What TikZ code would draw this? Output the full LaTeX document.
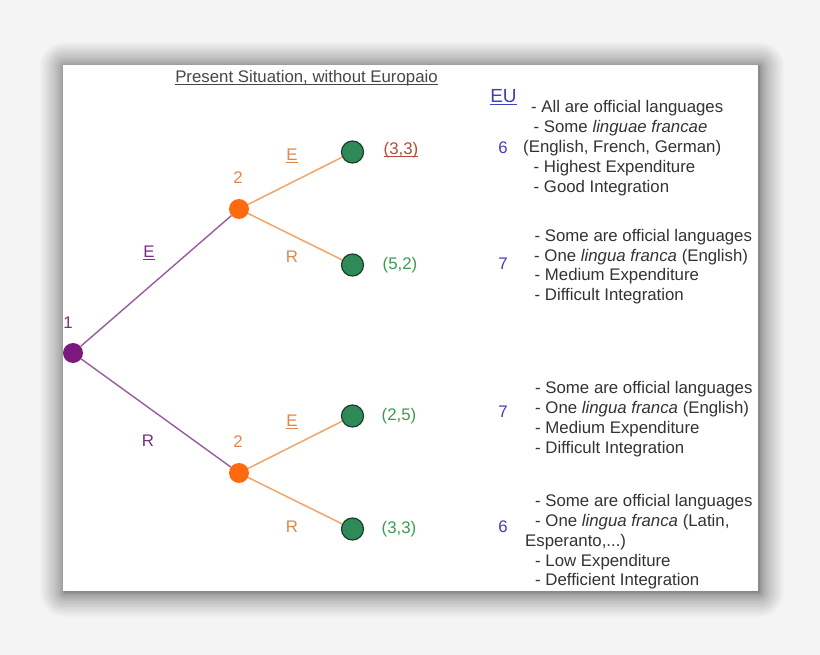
\documentclass[tikz,border=0pt]{standalone}
\usepackage{fontspec}
\setmainfont{Liberation Sans}
\definecolor{bggrey}{HTML}{F4F4F4}
\definecolor{txtgrey}{HTML}{333333}
\definecolor{eublue}{HTML}{4040B8}
\definecolor{purpnode}{HTML}{7B1A7D}
\definecolor{purpedge}{HTML}{9A5AA0}
\definecolor{purptext}{HTML}{7B2F80}
\definecolor{orgnode}{HTML}{FF6A10}
\definecolor{orgedge}{HTML}{F2A56A}
\definecolor{orgtext}{HTML}{E0874A}
\definecolor{leaffill}{HTML}{2E8B57}
\definecolor{leafline}{HTML}{1D3D2A}
\definecolor{greentext}{HTML}{3C9C4C}
\definecolor{redtext}{HTML}{B84A3A}
\newcommand{\myul}[1]{\setbox0\hbox{#1}\rlap{\rule[-2.2pt]{\wd0}{0.9pt}}\box0}
\tikzset{
  txt/.style={inner sep=0pt, anchor=base west, text=txtgrey, font=\fontsize{16.8}{20}\selectfont},
  num/.style={inner sep=0pt, anchor=base, text=eublue, font=\fontsize{16.8}{20}\selectfont},
  lbl/.style={inner sep=0pt, anchor=center, font=\fontsize{16.8}{20}\selectfont},
  root/.style={circle, fill=purpnode, minimum size=20pt, inner sep=0pt},
  mid/.style={circle, fill=orgnode, minimum size=20pt, inner sep=0pt},
  leaf/.style={circle, fill=leaffill, draw=leafline, line width=1.2pt, minimum size=22pt, inner sep=0pt},
  pedge/.style={draw=purpedge, line width=1.4pt},
  oedge/.style={draw=orgedge, line width=1.5pt}
}
\begin{document}
\begin{tikzpicture}[x=1pt,y=-1pt]
\useasboundingbox (0,0) rectangle (820,655);
\fill[bggrey] (0,0) rectangle (820,655);
% soft shadow around the card
\foreach \i in {1,...,22}{
  \pgfmathsetmacro{\e}{\i*\i/20}
  \fill[black, opacity=0.022, rounded corners={\e pt}] ({63-\e+1.5},{65-\e+1.5}) rectangle ({758+\e+1.5},{591+\e+1.5});
}
\fill[white] (63,65) rectangle (758,591);

% title
\node[txt, anchor=base, text=txtgrey!90] (title) at (306.5,83) {\myul{Present Situation, without Europaio}};
\node[num, font=\fontsize{19}{22}\selectfont] (eu) at (503.5,103) {\myul{EU}};

% tree nodes
\node[root] (n1) at (73,353) {};
\node[mid] (n2a) at (239,209) {};
\node[mid] (n2b) at (239,473) {};
\node[leaf] (l1) at (352.5,152) {};
\node[leaf] (l2) at (352.5,265) {};
\node[leaf] (l3) at (352.5,416) {};
\node[leaf] (l4) at (352.5,529) {};

\draw[pedge] (n1) -- (n2a);
\draw[pedge] (n1) -- (n2b);
\draw[oedge] (n2a) -- (l1);
\draw[oedge] (n2a) -- (l2);
\draw[oedge] (n2b) -- (l3);
\draw[oedge] (n2b) -- (l4);

% tree labels
\node[lbl, text=purptext] (lab1) at (68,323) {1};
\node[lbl, text=orgtext] (lab2a) at (238,178) {2};
\node[lbl, text=orgtext] (lab2b) at (238,442) {2};
\node[lbl, text=purptext] (eE) at (149,253) {\myul{E}};
\node[lbl, text=purptext] (eR) at (148,441) {R};
\node[lbl, text=orgtext] (e1) at (292,156) {\myul{E}};
\node[lbl, text=orgtext] (e2) at (292,257) {R};
\node[lbl, text=orgtext] (e3) at (292,422) {\myul{E}};
\node[lbl, text=orgtext] (e4) at (292,527) {R};

% payoffs
\node[lbl, text=redtext] (p1) at (401,150) {\myul{(3,3)}};
\node[lbl, text=greentext] (p2) at (400,265) {(5,2)};
\node[lbl, text=greentext] (p3) at (399,416) {(2,5)};
\node[lbl, text=greentext] (p4) at (399,529) {(3,3)};

% EU numbers
\node[num] (u1) at (503,154) {6};
\node[num] (u2) at (503,270) {7};
\node[num] (u3) at (503,417) {7};
\node[num] (u4) at (503,532) {6};

% block 1
\node[txt] (a1) at (531,113) {- All are official languages};
\node[txt] (a2) at (533.5,133) {- Some \textit{linguae francae}};
\node[txt] (a3) at (523,153) {(English, French, German)};
\node[txt] (a4) at (533.5,173) {- Highest Expenditure};
\node[txt] (a5) at (533.5,193) {- Good Integration};
% block 2
\node[txt] (b1) at (534.5,242) {- Some are official languages};
\node[txt] (b2) at (534,261.5) {- One \textit{lingua franca} (English)};
\node[txt] (b3) at (534.5,281) {- Medium Expenditure};
\node[txt] (b4) at (534.5,300.5) {- Difficult Integration};
% block 3
\node[txt] (c1) at (535,393) {- Some are official languages};
\node[txt] (c2) at (535,413) {- One \textit{lingua franca} (English)};
\node[txt] (c3) at (535,433) {- Medium Expenditure};
\node[txt] (c4) at (535,453) {- Difficult Integration};
% block 4
\node[txt] (d1) at (535,506) {- Some are official languages};
\node[txt] (d2) at (535,526) {- One \textit{lingua franca} (Latin,};
\node[txt] (d3) at (525,546) {Esperanto,...)};
\node[txt] (d4) at (535,566) {- Low Expenditure};
\node[txt] (d5) at (535,585.5) {- Defficient Integration};
\end{tikzpicture}
\end{document}
